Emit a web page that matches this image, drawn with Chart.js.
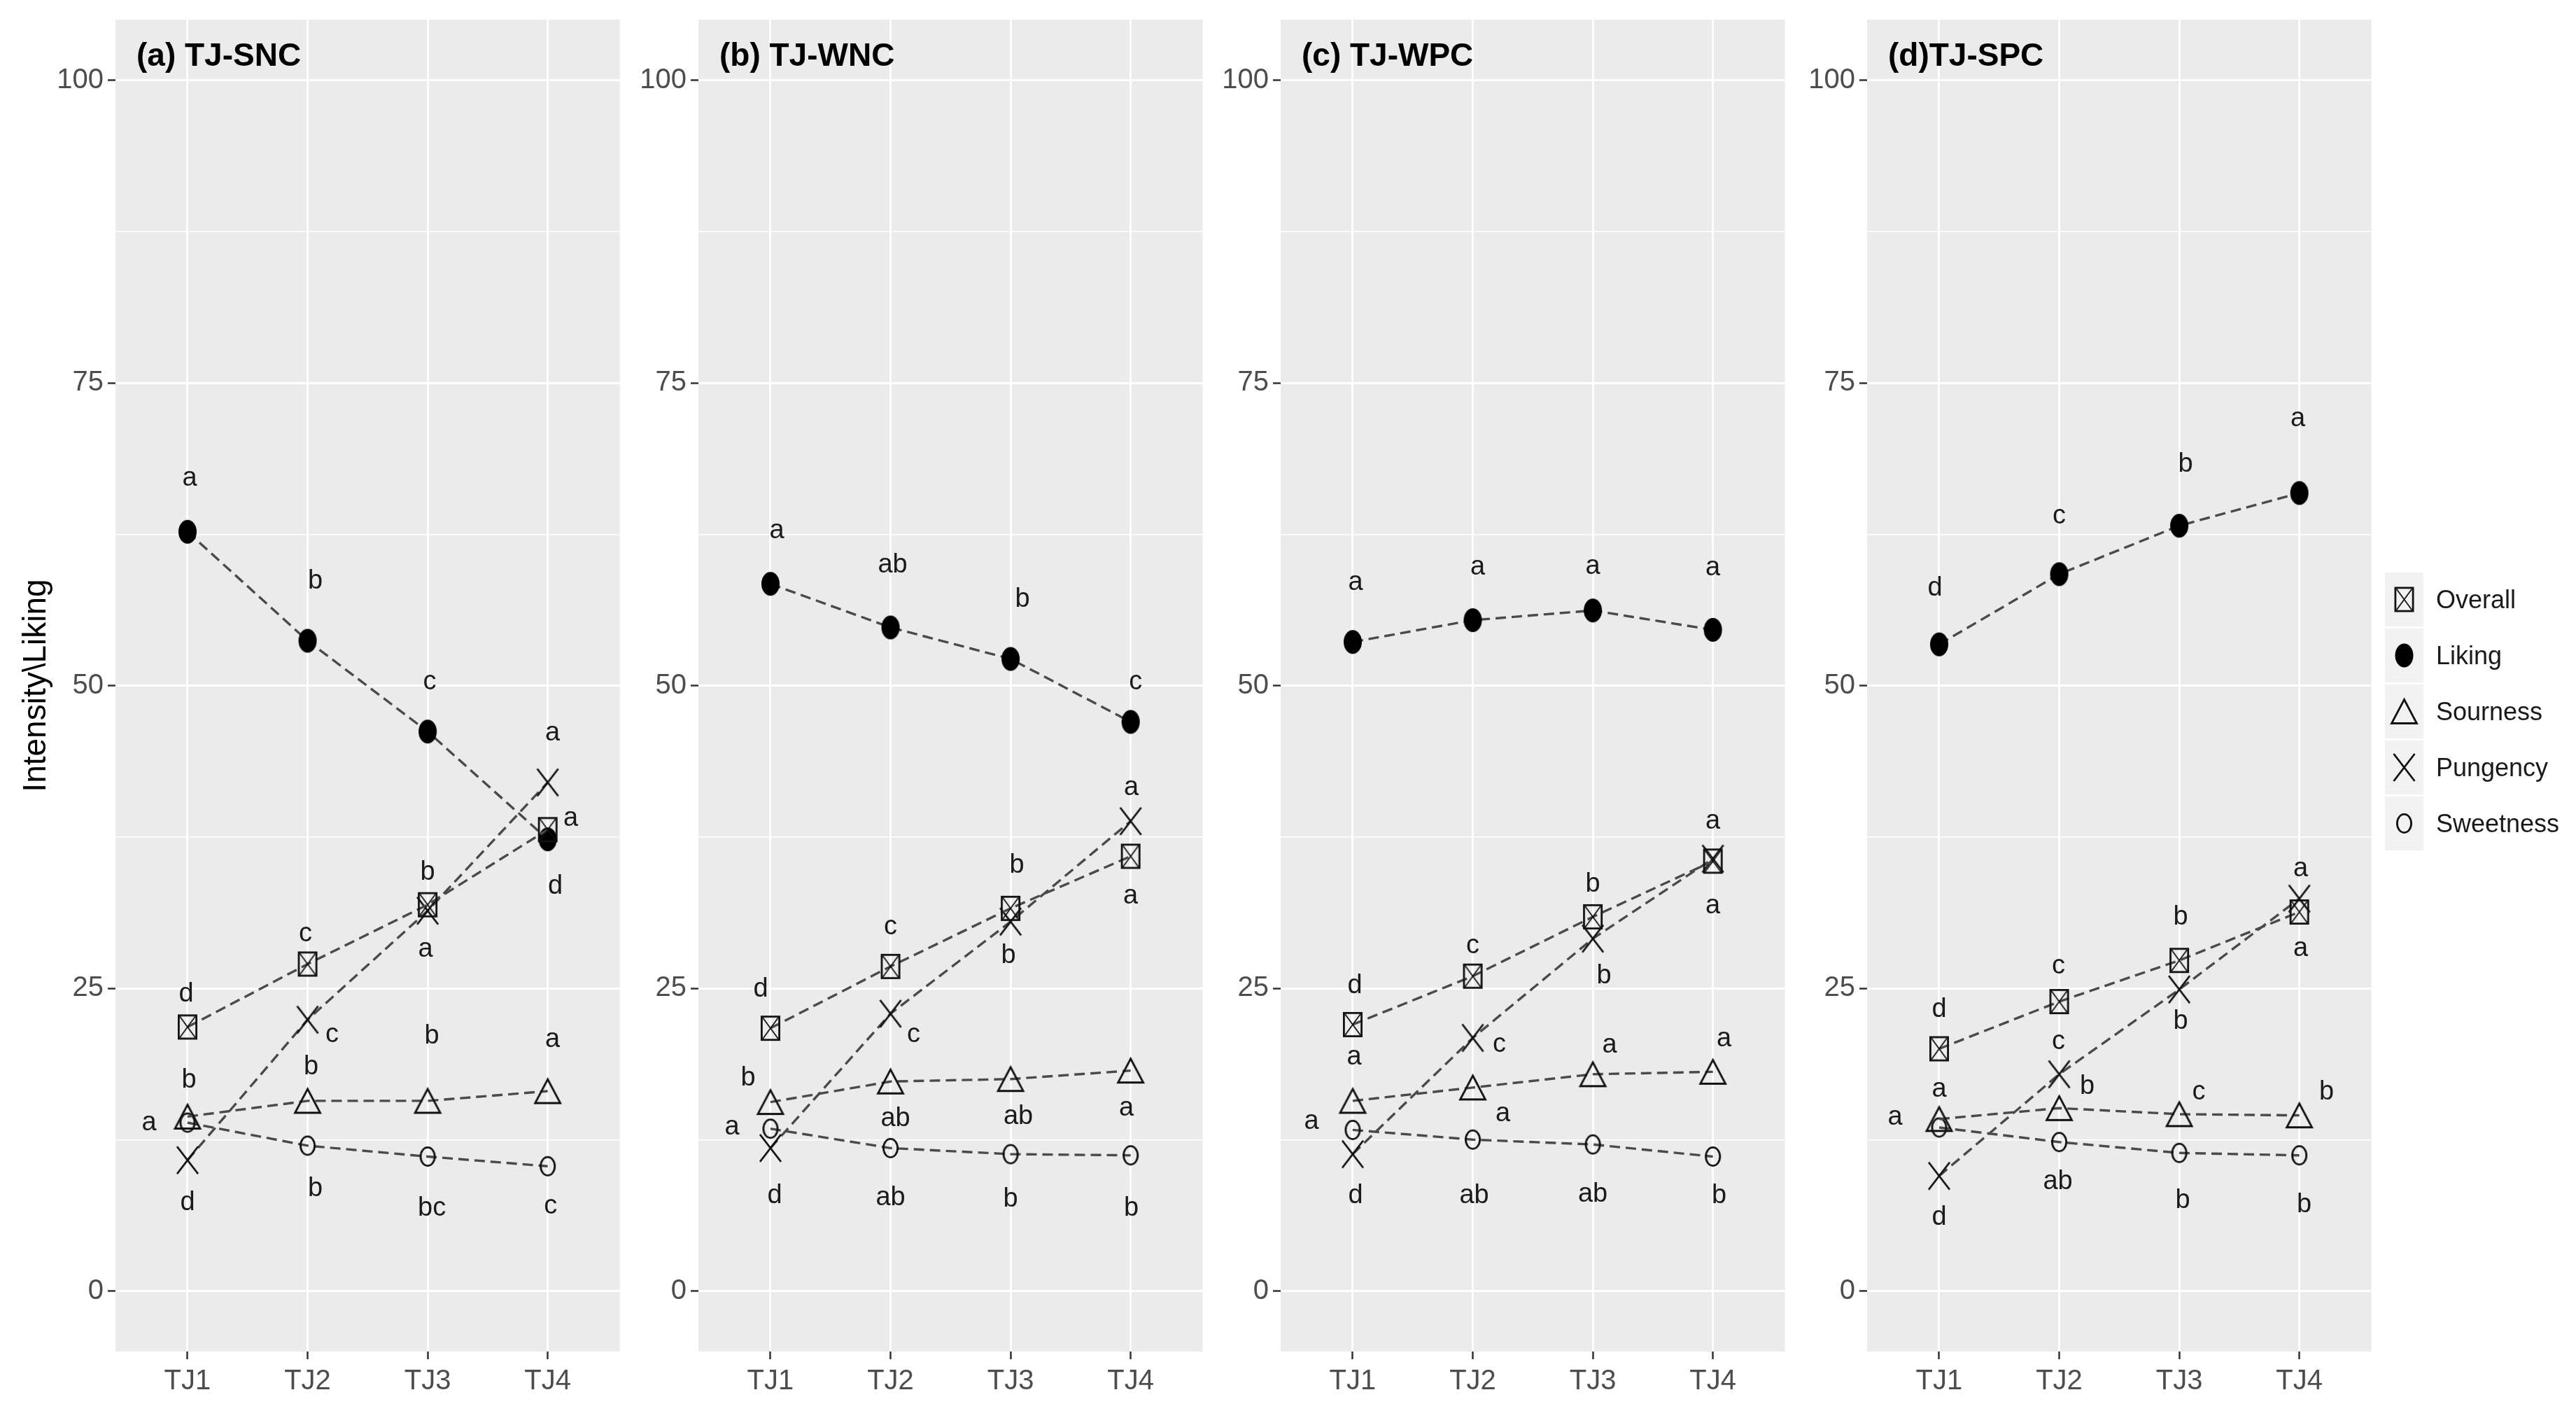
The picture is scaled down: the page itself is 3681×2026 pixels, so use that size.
<!DOCTYPE html>
<html>
<head>
<meta charset="utf-8">
<script src="https://cdn.jsdelivr.net/npm/chart.js@4.4.1/dist/chart.umd.min.js"></script>
<style>
  html, body { margin: 0; padding: 0; background: #fff; }
  body { width: 3681px; height: 2026px; position: relative; overflow: hidden;
         font-family: "Liberation Sans", Arial, sans-serif; }
  canvas.panel { position: absolute; top: 0; }
  #legend { position: absolute; left: 3408px; top: 818px; }
  .row { display: flex; align-items: center; height: 77px; margin-bottom: 3px; }
  .key { width: 55px; height: 77px; background: #f2f2f2; display: block; }
  .lab { margin-left: 18px; font-size: 36px; color: #1a1a1a; }
</style>
</head>
<body>
<canvas id="p0" class="panel"></canvas>
<canvas id="p1" class="panel"></canvas>
<canvas id="p2" class="panel"></canvas>
<canvas id="p3" class="panel"></canvas>
<div id="legend"></div>
<script>
// --- data ---
const categories = ["TJ1", "TJ2", "TJ3", "TJ4"];
const panelTitles = ["(a) TJ-SNC", "(b) TJ-WNC", "(c) TJ-WPC", "(d)TJ-SPC"];
const seriesNames = ["Overall", "Liking", "Sourness", "Pungency", "Sweetness"];
const yTicks = [0, 12.5, 25, 37.5, 50, 62.5, 75, 87.5, 100];

// one row per panel (a, b, c, d)
const overall = [
  [21.8, 27.0, 31.9, 38.1],
  [21.7, 26.8, 31.6, 35.9],
  [22.0, 26.0, 30.9, 35.5],
  [20.0, 23.9, 27.3, 31.3]
];
const liking = [
  [62.7, 53.7, 46.2, 37.3],
  [58.4, 54.8, 52.2, 47.0],
  [53.6, 55.4, 56.2, 54.6],
  [53.4, 59.2, 63.2, 65.9]
];
const sourness = [
  [14.4, 15.7, 15.7, 16.5],
  [15.6, 17.3, 17.5, 18.2],
  [15.7, 16.8, 17.9, 18.1],
  [14.2, 15.1, 14.6, 14.5]
];
const pungency = [
  [10.8, 22.4, 31.4, 42.0],
  [11.8, 22.9, 30.5, 38.8],
  [11.3, 20.9, 29.1, 35.7],
  [9.5, 17.9, 24.9, 32.4]
];
const sweetness = [
  [13.9, 12.0, 11.1, 10.3],
  [13.4, 11.8, 11.3, 11.2],
  [13.3, 12.5, 12.1, 11.1],
  [13.5, 12.3, 11.4, 11.2]
];

// significance letters
const overallLetters = [["d", "c", "b", "a"], ["d", "c", "b", "a"], ["d", "c", "b", "a"], ["d", "c", "b", "a"]];
const likingLetters = [["a", "b", "c", "d"], ["a", "ab", "b", "c"], ["a", "a", "a", "a"], ["d", "c", "b", "a"]];
const sournessLetters = [["b", "b", "b", "a"], ["b", "ab", "ab", "a"], ["a", "a", "a", "a"], ["a", "b", "c", "b"]];
const pungencyLetters = [["d", "c", "a", "a"], ["d", "c", "b", "a"], ["d", "c", "b", "a"], ["d", "c", "b", "a"]];
const sweetnessLetters = [["a", "b", "bc", "c"], ["a", "ab", "b", "b"], ["a", "ab", "ab", "b"], ["a", "ab", "b", "b"]];

// where each letter sits relative to its point (px)
const nudge = {
  overall: [
    [[-2, -47], [-3, -43], [0, -46], [33, -16]],
    [[-14, -56], [0, -56], [9, -61], [0, 57]],
    [[3, -55], [0, -43], [0, -46], [0, 64]],
    [[0, -56], [-1, -51], [2, -62], [2, 53]]
  ],
  liking: [
    [[3, -76], [11, -85], [3, -71], [11, 67]],
    [[9, -76], [3, -89], [17, -85], [7, -57]],
    [[4, -85], [7, -76], [0, -63], [0, -88]],
    [[-6, -80], [0, -83], [9, -88], [-2, -106]]
  ],
  sourness: [
    [[2, -52], [5, -48], [6, -92], [7, -74]],
    [[-32, -34], [7, 53], [11, 54], [-6, 54]],
    [[2, -62], [43, 38], [24, -41], [16, -47]],
    [[0, -42], [40, -31], [28, -31], [39, -33]]
  ],
  pungency: [
    [[0, 61], [35, 22], [-3, 55], [7, -70]],
    [[6, 68], [33, 30], [-3, 49], [1, -48]],
    [[4, 60], [38, 10], [16, 53], [0, -53]],
    [[0, 59], [-1, -46], [2, 46], [2, -42]]
  ],
  sweetness: [
    [[-55, 0], [11, 62], [6, 74], [4, 57]],
    [[-55, -2], [0, 71], [0, 65], [1, 76]],
    [[-59, -12], [2, 80], [0, 71], [9, 56]],
    [[-63, -14], [-2, 57], [5, 68], [7, 71]]
  ]
};

// --- drawing ---
const FONT = '"Liberation Sans", Arial, sans-serif';
const panelLeft = [165, 998, 1830, 2668];
const panelW = 738;

// markers in the source are a bit taller than wide
const markerDims = {
  Overall: [28, 36],
  Liking: [26, 34],
  Sourness: [39, 37],
  Pungency: [30, 39],
  Sweetness: [23, 29]
};

function drawSymbol(ctx, kind, cx, cy) {
  const [w, h] = markerDims[kind];
  const hw = w / 2, hh = h / 2;
  ctx.save();
  ctx.strokeStyle = "#111";
  ctx.fillStyle = "#000";
  ctx.lineWidth = 2.8;
  ctx.beginPath();
  if (kind === "Overall") {
    ctx.strokeRect(cx - hw + 1.4, cy - hh + 1.4, w - 2.8, h - 2.8);
    ctx.lineWidth = 1.8;
    ctx.moveTo(cx - hw + 3, cy - hh + 3); ctx.lineTo(cx + hw - 3, cy + hh - 3);
    ctx.moveTo(cx + hw - 3, cy - hh + 3); ctx.lineTo(cx - hw + 3, cy + hh - 3);
    ctx.stroke();
  } else if (kind === "Liking") {
    ctx.ellipse(cx, cy, hw, hh, 0, 0, Math.PI * 2);
    ctx.fill();
  } else if (kind === "Sourness") {
    ctx.moveTo(cx, cy - hh + 1.5);
    ctx.lineTo(cx + hw - 1.5, cy + hh - 1.5);
    ctx.lineTo(cx - hw + 1.5, cy + hh - 1.5);
    ctx.closePath();
    ctx.stroke();
  } else if (kind === "Pungency") {
    ctx.moveTo(cx - hw, cy - hh); ctx.lineTo(cx + hw, cy + hh);
    ctx.moveTo(cx + hw, cy - hh); ctx.lineTo(cx - hw, cy + hh);
    ctx.stroke();
  } else {
    ctx.ellipse(cx, cy, hw - 1.4, hh - 1.4, 0, 0, Math.PI * 2);
    ctx.stroke();
  }
  ctx.restore();
}

function markerImage(kind) {
  const [w, h] = markerDims[kind];
  const c = document.createElement("canvas");
  c.width = w + 6; c.height = h + 6;
  drawSymbol(c.getContext("2d"), kind, c.width / 2, c.height / 2);
  return c;
}

const panelBg = {
  id: "panelBg",
  beforeDraw(chart) {
    const { ctx, chartArea: a } = chart;
    ctx.save();
    ctx.fillStyle = "#ebebeb";
    ctx.fillRect(a.left, a.top, a.right - a.left, a.bottom - a.top);
    ctx.restore();
  }
};

const letterLabels = {
  id: "letterLabels",
  afterDatasetsDraw(chart) {
    const ctx = chart.ctx;
    ctx.save();
    ctx.font = "38px " + FONT;
    ctx.fillStyle = "#1a1a1a";
    ctx.textAlign = "center";
    ctx.textBaseline = "middle";
    chart.data.datasets.forEach((ds, i) => {
      const meta = chart.getDatasetMeta(i);
      meta.data.forEach((pt, j) => {
        const [dx, dy] = ds.nudge[j];
        ctx.fillText(ds.letters[j], pt.x + dx, pt.y + dy);
      });
    });
    ctx.restore();
  }
};

const panelTitle = {
  id: "panelTitle",
  afterDraw(chart, args, opts) {
    const { ctx, chartArea: a } = chart;
    ctx.save();
    ctx.font = "bold 46px " + FONT;
    ctx.fillStyle = "#000";
    ctx.textAlign = "left";
    ctx.textBaseline = "middle";
    ctx.fillText(opts.text, a.left + 30, a.top + 53);
    ctx.restore();
  }
};

function series(name, vals, letters, nd, p) {
  return {
    label: name,
    data: vals[p].map((v, i) => ({ x: i + 1, y: v })),
    letters: letters[p],
    nudge: nd[p],
    borderColor: "#4a4a4a",
    borderWidth: 3.4,
    borderDash: [15, 8],
    fill: false,
    tension: 0,
    pointStyle: markerImage(name),
    pointRadius: 14
  };
}

function makePanel(p) {
  const canvas = document.getElementById("p" + p);
  const axisW = p === 0 ? 165 : 140;
  canvas.width = axisW + panelW;
  canvas.height = 2026;
  canvas.style.left = (panelLeft[p] - axisW) + "px";

  const datasets = [
    series("Overall", overall, overallLetters, nudge.overall, p),
    series("Liking", liking, likingLetters, nudge.liking, p),
    series("Sourness", sourness, sournessLetters, nudge.sourness, p),
    series("Pungency", pungency, pungencyLetters, nudge.pungency, p),
    series("Sweetness", sweetness, sweetnessLetters, nudge.sweetness, p)
  ];

  new Chart(canvas.getContext("2d"), {
    type: "line",
    data: { datasets },
    plugins: [panelBg, letterLabels, panelTitle],
    options: {
      responsive: false,
      animation: false,
      devicePixelRatio: 1,
      layout: { padding: { top: 28, left: 0, right: 0, bottom: 0 } },
      plugins: {
        legend: { display: false },
        tooltip: { enabled: false },
        panelTitle: { text: panelTitles[p] }
      },
      scales: {
        x: {
          type: "linear",
          min: 0.4,
          max: 4.6,
          afterBuildTicks: (a) => { a.ticks = categories.map((c, i) => ({ value: i + 1 })); },
          afterFit: (a) => { a.height = 95; a.paddingLeft = 0; a.paddingRight = 0; },
          ticks: {
            callback: (v) => categories[v - 1],
            color: "#4d4d4d",
            font: { size: 40, family: FONT },
            padding: 8,
            autoSkip: false,
            maxRotation: 0
          },
          grid: { color: "#fff", lineWidth: 3, tickColor: "#333", tickLength: 11, tickWidth: 2.5 },
          border: { display: false }
        },
        y: {
          min: -5,
          max: 105,
          afterBuildTicks: (a) => { a.ticks = yTicks.map((v) => ({ value: v })); },
          afterFit: (a) => { a.width = axisW; a.paddingTop = 0; a.paddingBottom = 0; },
          ticks: {
            callback: (v) => (v % 25 === 0 ? String(v) : ""),
            color: "#4d4d4d",
            font: { size: 40, family: FONT },
            padding: 6
          },
          grid: {
            color: "#fff",
            lineWidth: (c) => (c.tick && c.tick.value % 25 === 0 ? 3 : 1.5),
            tickColor: (c) => (c.tick && c.tick.value % 25 === 0 ? "#333" : "rgba(0,0,0,0)"),
            tickLength: 11,
            tickWidth: 2.5
          },
          border: { display: false },
          title: p === 0
            ? { display: true, text: "Intensity\\Liking", color: "#000", font: { size: 46, family: FONT }, padding: { top: 25, bottom: 0 } }
            : { display: false }
        }
      }
    }
  });
}

for (let p = 0; p < 4; p++) makePanel(p);

// legend
const legend = document.getElementById("legend");
seriesNames.forEach((name) => {
  const row = document.createElement("div");
  row.className = "row";
  const key = document.createElement("canvas");
  key.className = "key";
  key.width = 55; key.height = 77;
  drawSymbol(key.getContext("2d"), name, 27.5, 38.5);
  const lab = document.createElement("span");
  lab.className = "lab";
  lab.textContent = name;
  row.appendChild(key);
  row.appendChild(lab);
  legend.appendChild(row);
});
</script>
</body>
</html>
